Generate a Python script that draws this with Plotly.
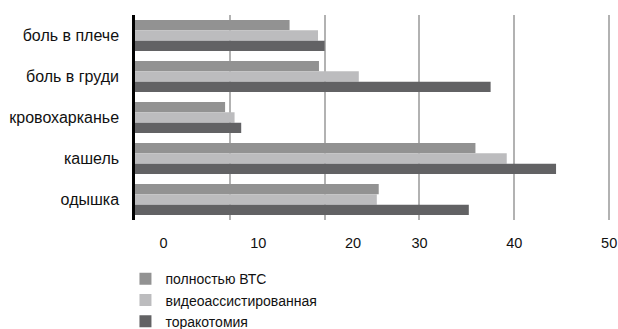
import plotly.graph_objects as go

categories = ["боль в плече", "боль в груди", "кровохарканье", "кашель", "одышка"]
series_names = ["полностью ВТС", "видеоассистированная", "торакотомия"]
full_vts = [16.3, 19.4, 9.5, 35.9, 25.7]
video_assisted = [19.3, 23.6, 10.5, 39.2, 25.5]
thoracotomy = [20.0, 37.5, 11.2, 44.4, 35.2]
tick_labels = ["0", "10", "20", "30", "40", "50"]
tick_label_positions = [3, 13, 23, 30, 40, 50]
grid_values = [10, 20, 30, 40, 50]

colors = ["#929292", "#bcbcbe", "#626264"]
values = [full_vts, video_assisted, thoracotomy]

fig = go.Figure()
for name, vals, col in zip(series_names, values, colors):
    fig.add_trace(go.Bar(
        y=categories, x=vals, name=name, orientation="h",
        marker=dict(color=col, line=dict(width=0)),
    ))

fig.update_layout(
    width=618, height=329,
    margin=dict(l=135, r=6, t=15, b=109, autoexpand=False),
    paper_bgcolor="white", plot_bgcolor="white",
    barmode="group", bargap=0.245, bargroupgap=0,
    font=dict(family="Liberation Sans, Arial, sans-serif", size=14.5, color="#111111"),
    showlegend=True,
    legend=dict(
        x=-0.02, xanchor="left", y=-0.211, yanchor="top",
        orientation="v", traceorder="normal",
        font=dict(size=14, color="#111111"),
        itemclick=False, tracegroupgap=0,
    ),
    xaxis=dict(
        range=[0, 50.3],
        tickvals=tick_label_positions, ticktext=tick_labels,
        showgrid=False, zeroline=False, showline=False,
        ticks="", ticklabelstandoff=12,
        tickfont=dict(size=14.5),
        minor=dict(tickvals=grid_values, showgrid=True, gridcolor="#b2b2b2", gridwidth=1.5),
        fixedrange=True, automargin=False,
    ),
    yaxis=dict(
        autorange="reversed",
        showline=True, linecolor="black", linewidth=2.5,
        showgrid=False, zeroline=False, ticks="",
        ticklabelstandoff=10,
        tickfont=dict(size=16),
        fixedrange=True, automargin=False,
    ),
)

fig.write_html("out.html")
